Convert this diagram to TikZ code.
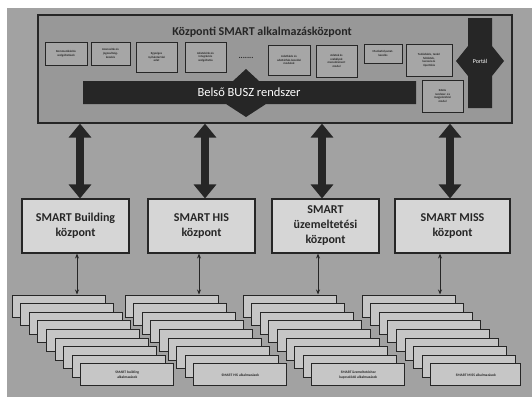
\documentclass[tikz,border=0pt]{standalone}
\usepackage{fontspec}
\setmainfont{Carlito}
\usetikzlibrary{arrows.meta}
\definecolor{bgc}{HTML}{A2A2A2}
\definecolor{mainc}{HTML}{989898}
\definecolor{smallc}{HTML}{A6A6A6}
\definecolor{darkc}{HTML}{262626}
\definecolor{lightc}{HTML}{D6D6D6}
\definecolor{cardc}{HTML}{C6C6C6}
\tikzset{
  mainbox/.style={draw=darkc, line width=1.2pt, fill=mainc, minimum width=474pt, minimum height=108pt, inner sep=0pt},
  smallbox/.style={draw=darkc, line width=0.9pt, fill=smallc, inner sep=0pt, align=center,
    font=\bfseries\fontsize{3}{3.6}\selectfont, text=darkc},
  midbox/.style={draw=darkc, line width=1.1pt, fill=lightc, inner sep=0pt, align=center,
    minimum height=54pt, font=\bfseries\fontsize{12}{15}\selectfont, text=darkc},
  card/.style={draw=darkc, line width=1pt, fill=cardc, inner sep=0pt, align=center,
    minimum width=93pt, minimum height=22pt, font=\bfseries\fontsize{3.6}{4.6}\selectfont, text=darkc},
  bigarrow/.style={draw=darkc, line width=8pt, {Triangle[width=22pt,length=14pt]}-{Triangle[width=22pt,length=14pt]}},
  thinarrow/.style={draw=darkc, line width=0.9pt, {Stealth[width=4pt,length=5pt]}-{Stealth[width=4pt,length=5pt]}},
  darkshape/.style={fill=darkc}
}
\begin{document}
\begin{tikzpicture}[x=1pt,y=-1pt]
\useasboundingbox (0,0) rectangle (532,397);
\fill[white] (0,0) rectangle (532,397);
\fill[bgc] (7,8) rectangle (532,397);

% main box
\node[mainbox] (main) at (275,69) {};
\node[font=\bfseries\fontsize{12}{14}\selectfont, text=darkc] (title) at (262,32) {Központi SMART alkalmazásközpont};

% small boxes
\node[smallbox, minimum width=42pt, minimum height=23pt] (s1) at (66,53.5) {Kommunikációs\\szolgáltatások};
\node[smallbox, minimum width=39pt, minimum height=23pt] (s2) at (110.5,53.5) {Azonosítás és\\jogosultság-\\kezelés};
\node[smallbox, minimum width=41pt, minimum height=30pt] (s3) at (156.5,57) {Egységes\\nyilvántartási\\adat};
\node[smallbox, minimum width=41pt, minimum height=30pt] (s4) at (205.5,57) {Adatelérés és\\integrációs\\szolgáltatás};
\node[font=\bfseries\fontsize{8}{8}\selectfont, text=darkc] (dots) at (246,58) {.......};
\node[smallbox, minimum width=42pt, minimum height=30pt] (s5) at (289,60) {Adatbázis és\\adattárház-kezelési\\modulok};
\node[smallbox, minimum width=41pt, minimum height=32pt] (s6) at (336.5,61) {Adatok és\\szabályok\\menedzsment\\modul};
\node[smallbox, minimum width=38pt, minimum height=19pt] (s7) at (383,53.5) {Munkafolyamat-\\kezelés};
\node[smallbox, minimum width=46pt, minimum height=32pt] (s8) at (429,60) {Tudásbázis, tanári\\felületek,\\keresés és\\riportálás};
\node[smallbox, minimum width=41pt, minimum height=32pt] (s9) at (442.5,96) {Közös\\rendszer- és\\megjelenítési\\modul};

% bus bar with double arrow
\fill[darkc] (83,81) -- (233,81) -- (246,69) -- (259,81) -- (416,81) -- (416,104)
  -- (266,104) -- (246,117) -- (226,104) -- (83,104) -- cycle;
\node[text=white, font=\fontsize{12.5}{14}\selectfont] (bus) at (249,92.5) {Belső BUSZ rendszer};

% portal
\fill[darkc] (468,18) -- (492,18) -- (492,46) -- (504,61) -- (492,76) -- (492,108)
  -- (468,108) -- (468,76) -- (456,61) -- (468,46) -- cycle;
\node[text=white, font=\fontsize{6}{7}\selectfont] (portal) at (480,61) {Portál};

% middle boxes
\node[midbox, minimum width=107pt] (m1) at (75.5,226) {SMART Building\\központ};
\node[midbox, minimum width=107pt] (m2) at (201.5,226) {SMART HIS\\központ};
\node[midbox, minimum width=107pt] (m3) at (325.5,226) {SMART\\üzemeltetési\\központ};
\node[midbox, minimum width=115pt] (m4) at (452.5,226) {SMART MISS\\központ};

% big arrows
\coordinate (ba1) at (80,0);
\coordinate (ba2) at (205,0);
\coordinate (ba3) at (322,0);
\coordinate (ba4) at (450,0);
\draw[bigarrow] (main.south -| ba1) -- (m1.north -| ba1);
\draw[bigarrow] (main.south -| ba2) -- (m2.north -| ba2);
\draw[bigarrow] (main.south -| ba3) -- (m3.north -| ba3);
\draw[bigarrow] (main.south -| ba4) -- (m4.north -| ba4);

% card stacks
\foreach \sx/\k in {12/1,125/2,243/3,362/4} {
  \foreach \i in {0,...,7} {
    \node[card] (c\k-\i) at ({\sx+8.6*\i+46.5},{295+8.6*\i+11}) {};
  }
}
\node[card] (c1-8) at ({12+68.8+46.5},{363.8+11}) {SMART building\\alkalmazások};
\node[card] (c2-8) at ({125+68.8+46.5},{363.8+11}) {SMART HIS alkalmazások};
\node[card] (c3-8) at ({243+68.8+46.5},{363.8+11}) {SMART üzemeltetéshez\\kapcsolódó alkalmazások};
\node[card, minimum width=90pt] (c4-8) at ({362+68.8+45},{363.8+11}) {SMART MISS alkalmazások};

% thin arrows
\coordinate (ta1) at (77,0);
\coordinate (ta2) at (199,0);
\coordinate (ta3) at (318,0);
\coordinate (ta4) at (440,0);
\draw[thinarrow] (m1.south -| ta1) -- (c1-0.north -| ta1);
\draw[thinarrow] (m2.south -| ta2) -- (c2-0.north -| ta2);
\draw[thinarrow] (m3.south -| ta3) -- (c3-0.north -| ta3);
\draw[thinarrow] (m4.south -| ta4) -- (c4-0.north -| ta4);
\end{tikzpicture}
\end{document}
